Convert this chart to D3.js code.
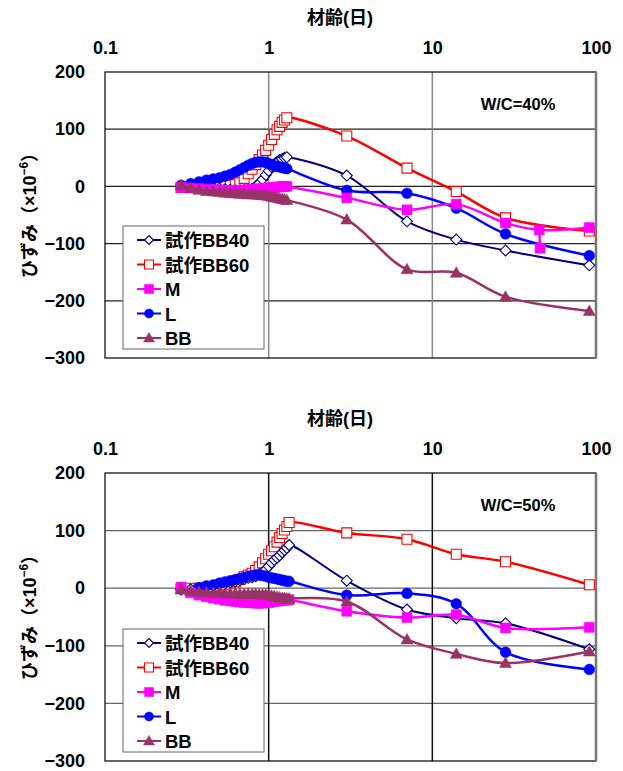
<!DOCTYPE html>
<html>
<head>
<meta charset="utf-8">
<script src="https://cdn.jsdelivr.net/npm/d3@7"></script>
<style>
  body { margin: 0; background: #fff; }
  text { font-family: "Liberation Sans", "Noto Sans CJK JP", sans-serif; font-weight: bold; }
</style>
</head>
<body>
<script>
// series names (legend order)
var seriesNames = ["試作BB40", "試作BB60", "M", "L", "BB"];
var xTicks = [0.1, 1, 10, 100];
var yTicks = [200, 100, 0, -100, -200, -300];

// early age readings, hourly (hours)
var topHours = [7,8,9,10,11,12,13,14,15,16,17,18,19,20,21,22,23,24,25,26,27,28,29,30,31];
var bottomHours = [7,8,9,10,11,12,13,14,15,16,17,18,19,20,21,22,23,24,25,26,27,28,29,30,31,32];
// later readings (days)
var lateDays = [3, 7, 14, 28, 91];
var topMDays = [3, 7, 14, 28, 45, 91];

// W/C=40%
var top40Early = {
  "試作BB40": [0,0,-1,-2,-3,-4,-5,-6,-7,-7,-7,-6,-4,0,5,12,20,27,34,39,43,46,48,50,51],
  "試作BB60": [-2,-1,0,0,1,1,1,2,3,6,14,22,30,38,47,55,63,72,82,91,99,105,112,116,120],
  "M": [-2,-3,-4,-5,-6,-6,-7,-7,-7,-7,-6,-6,-5,-5,-4,-4,-3,-3,-2,-2,-1,-1,0,0,0],
  "L": [2,5,8,11,13,15,18,21,25,29,33,37,40,42,43,43,42,40,38,36,35,34,33,32,31],
  "BB": [2,-3,-6,-8,-9,-10,-11,-12,-12,-13,-13,-14,-14,-14,-15,-15,-16,-17,-18,-19,-20,-21,-22,-23,-24]
};
var top40Late = {
  "試作BB40": [19,-61,-93,-112,-138],
  "試作BB60": [88,32,-9,-55,-78],
  "M": [-20,-41,-31,-64,-76,-72],
  "L": [-7,-12,-38,-83,-121],
  "BB": [-58,-145,-151,-193,-218]
};
var top40MTail = [[45,-76],[45.5,-108]];

// W/C=50%
var bot50Early = {
  "試作BB40": [-2,-2,0,2,4,6,8,10,12,14,16,18,19,21,24,27,32,38,44,49,53,57,62,66,70,75],
  "試作BB60": [-1,0,0,1,3,4,6,9,11,15,20,23,26,31,37,44,51,59,65,72,80,88,95,101,107,114],
  "M": [2,-8,-12,-15,-17,-19,-21,-22,-23,-24,-25,-25,-25,-26,-26,-26,-25,-25,-24,-23,-22,-22,-21,-21,-20,-20],
  "L": [null,null,1,4,6,9,11,13,15,17,19,21,22,23,23,22,21,19,18,17,16,15,14,13,12,12],
  "BB": [-2,-5,-6,-7,-8,-8,-9,-9,-9,-10,-10,-10,-10,-10,-11,-11,-11,-12,-13,-14,-15,-16,-17,-17,-18,-18]
};
var bot50Late = {
  "試作BB40": [13,-37,-52,-61,-106],
  "試作BB60": [96,85,59,46,6],
  "M": [-40,-51,-46,-69,-68],
  "L": [-12,-9,-27,-111,-141],
  "BB": [-23,-89,-114,-130,-110]
};

// styles
var style = {
  "試作BB40": {color: "#000080", fill: "#fff", mark: "diamond", lw: 2},
  "試作BB60": {color: "#ff0000", fill: "#fff", mark: "square", lw: 2.5},
  "M": {color: "#ff00ff", fill: "#ff00ff", mark: "square", lw: 2.5},
  "L": {color: "#0000ff", fill: "#0000ff", mark: "circle", lw: 2.5},
  "BB": {color: "#993366", fill: "#993366", mark: "triangle", lw: 2.5}
};
var drawOrder = ["試作BB60", "試作BB40", "L", "M", "BB"];

var marks = {
  diamond: "M0,-5.5L5.5,0L0,5.5L-5.5,0Z",
  square: "M-5,-5H5V5H-5Z",
  circle: d3.symbol(d3.symbolCircle, 90)(),
  triangle: "M0,-6L6,4.5L-6,4.5Z"
};
var legMarks = {
  diamond: "M0,-4.5L4.5,0L0,4.5L-4.5,0Z",
  square: "M-4.5,-4.5H4.5V4.5H-4.5Z",
  circle: d3.symbol(d3.symbolCircle, 64)(),
  triangle: "M0,-5.5L5.5,4L-5.5,4Z"
};

var svg = d3.select("body").append("svg")
    .attr("width", 623)
    .attr("height", 771);

function drawPanel(p) {
  var x = d3.scaleLog().domain([0.1, 100]).range([105, 596]);
  var y = d3.scaleLinear().domain([-300, 200]).range([p.y1, p.y0]);
  var g = svg.append("g");

  // gridlines
  g.selectAll(".hg").data([100, 0, -100, -200]).enter().append("line")
    .attr("x1", 105).attr("x2", 596)
    .attr("y1", d => y(d)).attr("y2", d => y(d))
    .attr("stroke", p.hColor).attr("stroke-width", 1.2);
  g.selectAll(".vg").data([1, 10]).enter().append("line")
    .attr("x1", d => x(d)).attr("x2", d => x(d))
    .attr("y1", p.y0).attr("y2", p.y1)
    .attr("stroke", p.vColor).attr("stroke-width", 1.5);

  // frame
  g.append("rect").attr("x", 105).attr("y", p.y0)
    .attr("width", 491).attr("height", p.y1 - p.y0)
    .attr("fill", "none").attr("stroke", "#000").attr("stroke-width", 1.2);
  g.append("line").attr("x1", 596).attr("x2", 596).attr("y1", p.y0).attr("y2", p.y1)
    .attr("stroke", "#777").attr("stroke-width", 2.5);

  // axes
  var xa = g.append("g").attr("transform", "translate(0," + (p.y0 - 18) + ")")
    .call(d3.axisTop(x).tickValues(xTicks).tickSize(0).tickPadding(0)
      .tickFormat(d3.format("~g")));
  var ya = g.append("g").attr("transform", "translate(85,0)")
    .call(d3.axisLeft(y).tickValues(yTicks).tickSize(0).tickPadding(0));
  [xa, ya].forEach(function(a) {
    a.select(".domain").remove();
    a.selectAll("text").attr("font-size", 18).attr("fill", "#000")
      .style("font-family", "'Liberation Sans', sans-serif");
  });

  g.append("text").attr("x", 340).attr("y", p.y0 - 48)
    .attr("text-anchor", "middle").attr("font-size", 18).text("材齢(日)");

  var yl = g.append("text")
    .attr("transform", "translate(36," + ((p.y0 + p.y1) / 2 - 4) + ") rotate(-90)")
    .attr("text-anchor", "middle").attr("font-size", 18);
  yl.append("tspan").text("ひずみ（×10");
  yl.append("tspan").attr("dy", -8).attr("font-size", 12).text("−6");
  yl.append("tspan").attr("dy", 8).text("）");

  g.append("text").attr("x", 518).attr("y", p.y0 + 38)
    .attr("text-anchor", "middle").attr("font-size", 16.5).text(p.label);

  var line = d3.line()
    .defined(d => d[1] != null)
    .x(d => x(d[0])).y(d => y(d[1]))
    .curve(d3.curveCatmullRom.alpha(0.5));

  drawOrder.forEach(function(name) {
    var s = style[name];
    var pts = p.hours.map((h, i) => [h / 24, p.early[name][i]]);
    var days = p.lateDays[name] || lateDays;
    days.forEach((d, i) => pts.push([d, p.late[name][i]]));
    pts = pts.filter(d => d[1] != null);
    var sg = g.append("g");
    sg.append("path").datum(pts)
      .attr("fill", "none").attr("stroke", s.color)
      .attr("stroke-width", s.lw).attr("d", line);
    if (p.tails && p.tails[name]) {
      sg.append("path").datum(p.tails[name])
        .attr("fill", "none").attr("stroke", s.color)
        .attr("stroke-width", s.lw).attr("d", line);
      pts = pts.concat(p.tails[name].slice(1));
    }
    sg.selectAll("path.m").data(pts).enter().append("path")
      .attr("class", "m")
      .attr("transform", d => "translate(" + x(d[0]) + "," + y(d[1]) + ")")
      .attr("d", marks[s.mark])
      .attr("fill", s.fill).attr("stroke", s.color)
      .attr("stroke-width", s.fill === "#fff" ? 1.1 : 0.5);
  });

  // legend
  var lg = g.append("g").attr("transform", "translate(123," + p.legY + ")");
  lg.append("rect").attr("width", 141).attr("height", 123)
    .attr("fill", "#fff").attr("stroke", "#666").attr("stroke-width", 1);
  seriesNames.forEach(function(name, i) {
    var s = style[name];
    var ry = 14 + i * 24.5;
    lg.append("line").attr("x1", 14).attr("x2", 38).attr("y1", ry).attr("y2", ry)
      .attr("stroke", s.color).attr("stroke-width", 2);
    lg.append("path").attr("transform", "translate(26," + ry + ")")
      .attr("d", legMarks[s.mark]).attr("fill", s.fill).attr("stroke", s.color)
      .attr("stroke-width", s.fill === "#fff" ? 1.1 : 0.5);
    lg.append("text").attr("x", 42).attr("y", ry + 7)
      .attr("font-size", 18.5).text(name);
  });
}

drawPanel({
  y0: 72, y1: 358, hColor: "#222", vColor: "#888", label: "W/C=40%",
  hours: topHours, early: top40Early, late: top40Late,
  lateDays: {"M": topMDays}, tails: {"M": top40MTail}, legY: 226
});
drawPanel({
  y0: 473, y1: 761, hColor: "#666", vColor: "#111", label: "W/C=50%",
  hours: bottomHours, early: bot50Early, late: bot50Late,
  lateDays: {}, tails: null, legY: 629
});
</script>
</body>
</html>
